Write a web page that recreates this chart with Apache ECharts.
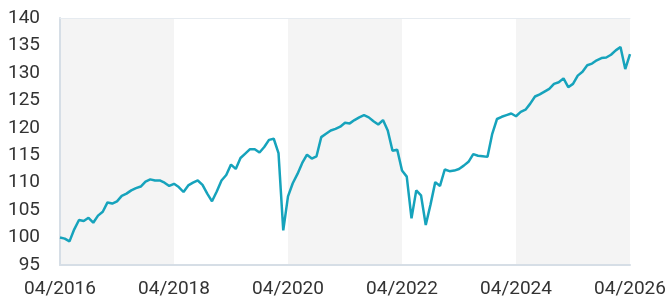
<!DOCTYPE html>
<html>
<head>
<meta charset="utf-8">
<script src="https://cdn.jsdelivr.net/npm/echarts@6/dist/echarts.min.js"></script>
<style>
  html, body { margin: 0; padding: 0; background: #fff; }
  #chart { width: 665px; height: 302px; }
</style>
</head>
<body>
<div id="chart"></div>
<script>
// monthly index values, 04/2016 .. 04/2026
const values = [
  100.0, 99.8, 99.3, 101.5, 103.2, 103.0, 103.6, 102.7, 104.0, 104.7,
  106.4, 106.2, 106.6, 107.6, 108.0, 108.6, 109.0, 109.3, 110.2, 110.6,
  110.4, 110.4, 110.0, 109.4, 109.8, 109.2, 108.3, 109.5, 110.0, 110.4,
  109.6, 108.0, 106.6, 108.4, 110.4, 111.4, 113.3, 112.5, 114.5, 115.3,
  116.1, 116.1, 115.5, 116.5, 117.8, 118.0, 115.4, 101.3, 107.5, 109.9,
  111.6, 113.6, 115.1, 114.4, 114.8, 118.3, 118.9, 119.5, 119.8, 120.2,
  120.9, 120.8, 121.4, 121.9, 122.3, 121.9, 121.2, 120.6, 121.4, 119.5,
  115.8, 116.0, 112.2, 111.1, 103.5, 108.6, 107.7, 102.3, 106.0, 110.1,
  109.4, 112.4, 112.1, 112.2, 112.5, 113.1, 113.8, 115.2, 114.9, 114.8,
  114.7, 118.9, 121.6, 122.0, 122.3, 122.6, 122.1, 122.9, 123.3, 124.4,
  125.7, 126.1, 126.6, 127.1, 128.0, 128.3, 129.0, 127.4, 128.0, 129.5,
  130.2, 131.4, 131.7, 132.3, 132.7, 132.8, 133.3, 134.1, 134.7, 130.7,
  133.4
];
const tickLabels = ['04/2016', '04/2018', '04/2020', '04/2022', '04/2024', '04/2026'];
const yTicks = [95, 100, 105, 110, 115, 120, 125, 130, 135, 140];

// month labels MM/YYYY starting 04/2016
const months = values.map((v, i) => {
  const m = (3 + i) % 12 + 1;
  const y = 2016 + Math.floor((3 + i) / 12);
  return String(m).padStart(2, '0') + '/' + y;
});

const font = 'Roboto, sans-serif';
const axisColor = '#d6dee6';

const chart = echarts.init(document.getElementById('chart'), null, { renderer: 'canvas' });
chart.setOption({
  animation: false,
  grid: { left: 60, right: 35, top: 18, bottom: 37, outerBoundsMode: 'none' },
  xAxis: [{
    type: 'category',
    data: months,
    boundaryGap: false,
    axisLine: { show: true, lineStyle: { color: axisColor, width: 2 } },
    axisTick: { show: false },
    axisLabel: {
      interval: (i, v) => tickLabels.indexOf(v) >= 0,
      color: '#333333',
      fontFamily: font,
      fontSize: 19,
      margin: 15
    },
    splitArea: {
      show: true,
      interval: 23,
      areaStyle: { color: ['#f4f4f4', '#ffffff'] }
    }
  }, {
    type: 'category',
    data: months,
    position: 'top',
    boundaryGap: false,
    axisLine: { show: true, lineStyle: { color: '#e6ebf0', width: 1 } },
    axisTick: { show: false },
    axisLabel: { show: false }
  }],
  yAxis: {
    type: 'value',
    min: yTicks[0],
    max: yTicks[yTicks.length - 1],
    interval: 5,
    axisLine: { show: true, lineStyle: { color: axisColor, width: 2 } },
    axisTick: { show: false },
    splitLine: { show: false },
    axisLabel: {
      color: '#333333',
      fontFamily: font,
      fontSize: 19,
      margin: 20
    }
  },
  series: [{
    type: 'line',
    data: values,
    showSymbol: false,
    lineStyle: { color: '#16a3bc', width: 2.5 },
    z: 5
  }]
});
</script>
</body>
</html>
